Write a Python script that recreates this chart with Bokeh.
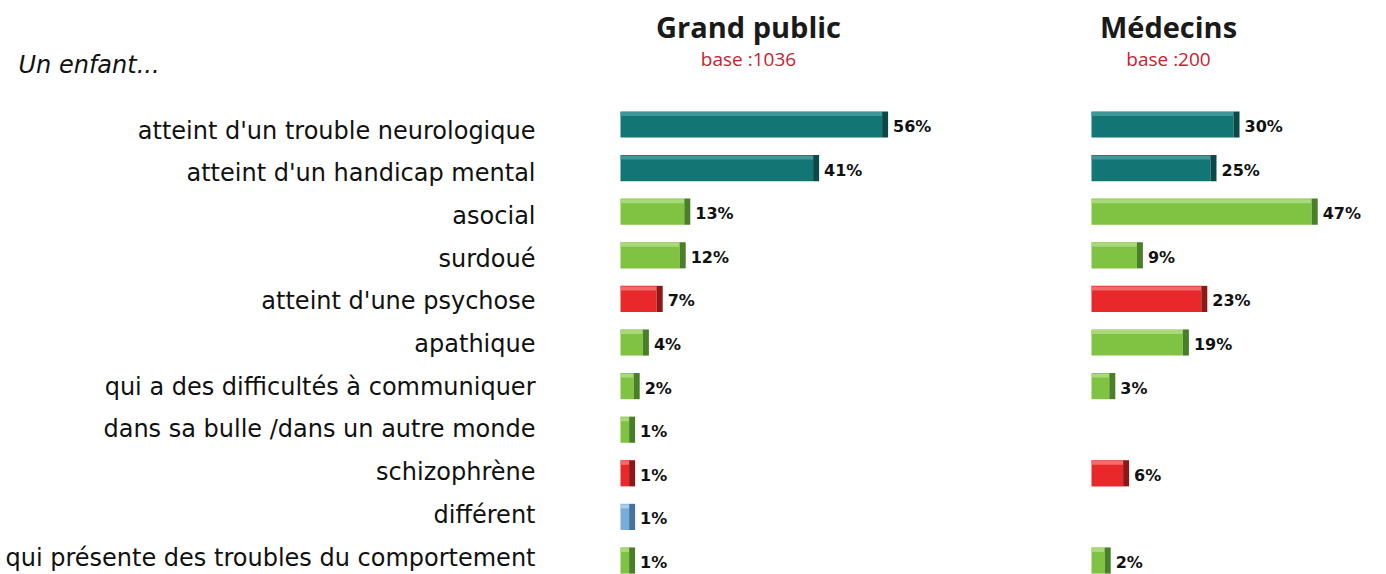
import pandas as pd
from bokeh.plotting import figure
from bokeh.models import Range1d, ColumnDataSource
from bokeh.core.properties import value
from bokeh.embed import file_html
from bokeh.resources import INLINE

# ---------------- data ----------------
intro = "Un enfant..."
categories = [
    "atteint d'un trouble neurologique",
    "atteint d'un handicap mental",
    "asocial",
    "surdoué",
    "atteint d'une psychose",
    "apathique",
    "qui a des difficultés à communiquer",
    "dans sa bulle /dans un autre monde",
    "schizophrène",
    "différent",
    "qui présente des troubles du comportement",
]
groups = ["neuro", "neuro", "trait", "trait", "psy", "trait", "trait",
          "trait", "psy", "other", "trait"]
grand_public = [56, 41, 13, 12, 7, 4, 2, 1, 1, 1, 1]
medecins = [30, 25, 47, 9, 23, 19, 3, None, 6, None, 2]
panel_titles = ["Grand public", "Médecins"]
panel_bases = ["base :1036", "base :200"]

# ---------------- layout / style ----------------
W, H = 1386, 574
ROW0, ROWSTEP = 124, 43.6
LABEL_Y0, LABEL_STEP = 130, 42.7
PX_PER_PCT = 4.6
ORIGINS = {"gp": 620, "med": 1091}
TITLE_X = [748, 1168]
LABEL_RIGHT = 535
BODY_EXT = 4 / PX_PER_PCT
CAP_EXT = 10 / PX_PER_PCT
LABEL_GAP = 5 / PX_PER_PCT

body_col = {"neuro": "#147674", "trait": "#80c242", "psy": "#e8282b", "other": "#79acd9"}
cap_col = {"neuro": "#0b4948", "trait": "#4a7f2a", "psy": "#8e1717", "other": "#46739e"}
hi_col = {"neuro": "#3f9897", "trait": "#a9d978", "psy": "#f36b6b", "other": "#aacdea"}

p = figure(width=W, height=H, output_backend="svg", toolbar_location=None,
           x_range=Range1d(0, W),
           y_range=Range1d(start=(H - ROW0) / ROWSTEP, end=-ROW0 / ROWSTEP),
           x_axis_location=None, y_axis_location=None,
           min_border=0, min_border_left=0, min_border_right=0,
           min_border_top=0, min_border_bottom=0)
p.grid.visible = False
p.outline_line_color = None
p.background_fill_color = "white"
p.border_fill_color = "white"

xr = {name: Range1d(-o / PX_PER_PCT, (W - o) / PX_PER_PCT) for name, o in ORIGINS.items()}
xr["px"] = Range1d(0, W)
p.extra_x_ranges = xr
p.extra_y_ranges = {"px": Range1d(H, 0)}

for name, vals in (("gp", grand_public), ("med", medecins)):
    df = pd.DataFrame({"y": range(len(categories)), "v": vals, "g": groups}).dropna()
    df["body_right"] = df["v"] + BODY_EXT
    df["cap_right"] = df["v"] + CAP_EXT
    df["label_x"] = df["cap_right"] + LABEL_GAP
    df["label"] = [f"{int(v)}%" for v in df["v"]]
    df["y_hi"] = df["y"] - 0.24
    df["body"] = df["g"].map(body_col)
    df["cap"] = df["g"].map(cap_col)
    df["hi"] = df["g"].map(hi_col)
    src = ColumnDataSource(df)
    p.hbar(y="y", left=0, right="body_right", height=0.6, fill_color="body",
           line_color=None, source=src, x_range_name=name)
    p.hbar(y="y_hi", left=0, right="body_right", height=0.09, fill_color="hi",
           line_color=None, source=src, x_range_name=name)
    p.hbar(y="y", left="body_right", right="cap_right", height=0.6, fill_color="cap",
           line_color=None, source=src, x_range_name=name)
    p.text(x="label_x", y="y", text="label", source=src, x_range_name=name,
           text_font=value("DejaVu Sans"), text_font_style="bold",
           text_font_size="16px", text_color="#111111",
           text_baseline="middle", text_align="left", y_offset=2)

# category labels
label_y = [LABEL_Y0 + i * LABEL_STEP for i in range(len(categories))]
p.text(x=LABEL_RIGHT, y=label_y, text=categories,
       x_range_name="px", y_range_name="px", text_font=value("DejaVu Sans"),
       text_font_size="24px", text_color="#111111",
       text_align="right", text_baseline="middle")

# headers
p.text(x=TITLE_X, y=[26, 26], text=panel_titles, x_range_name="px", y_range_name="px",
       text_font=value("Open Sans"), text_font_style="bold", text_font_size="29px",
       text_color="#1a1a1a", text_align="center", text_baseline="middle")
p.text(x=TITLE_X, y=[58, 58], text=panel_bases, x_range_name="px", y_range_name="px",
       text_font=value("Open Sans"), text_font_size="19px",
       text_color="#c9212f", text_align="center", text_baseline="middle")
p.text(x=[18], y=[64], text=[intro], x_range_name="px", y_range_name="px",
       text_font=value("DejaVu Sans"), text_font_style="italic",
       text_font_size="24px", text_color="#111111",
       text_align="left", text_baseline="middle")

open("out.html", "w").write(file_html(p, INLINE))
